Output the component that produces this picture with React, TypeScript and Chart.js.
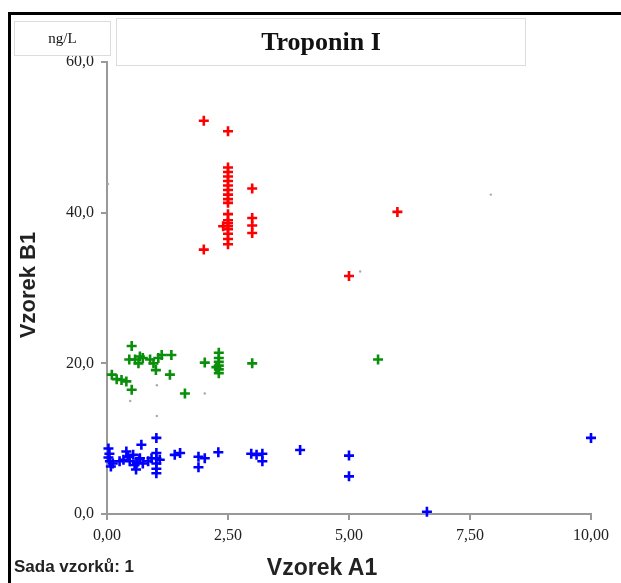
import React, { useEffect, useRef } from "react";
import { Chart, registerables } from "chart.js";

Chart.register(...registerables);

const chartTitle = "Troponin I";
const unitLabel = "ng/L";
const xAxisTitle = "Vzorek A1";
const yAxisTitle = "Vzorek B1";
const footerLabel = "Sada vzorků: 1";

const xMin = 0;
const xMax = 10;
const xStep = 2.5;
const yMin = 0;
const yMax = 60;
const yStep = 20;

const redPoints: [number, number][] = [
  [2.0, 52.2], [2.5, 50.8], [2.5, 46.0], [2.5, 45.4], [2.5, 44.8], [2.5, 44.2],
  [2.5, 43.6], [2.5, 43.0], [2.5, 42.4], [2.5, 41.8], [2.5, 41.3], [2.5, 39.8],
  [2.5, 39.0], [2.5, 38.6], [2.5, 38.2], [2.5, 37.8], [2.5, 37.2], [2.5, 36.5],
  [2.5, 35.8], [2.4, 38.2], [2.0, 35.1], [3.0, 43.2], [3.0, 39.3], [3.0, 38.3],
  [3.0, 37.3], [6.0, 40.1], [5.0, 31.6],
];

const greenPoints: [number, number][] = [
  [0.51, 22.3], [0.46, 20.5], [0.58, 20.5], [0.68, 20.9], [0.74, 20.7], [0.65, 20.0],
  [0.89, 20.5], [0.96, 20.0], [1.01, 19.1], [1.06, 20.7], [1.13, 21.1], [1.33, 21.1],
  [1.30, 18.5], [0.10, 18.5], [0.20, 17.9], [0.30, 17.8], [0.40, 17.6], [0.51, 16.5],
  [1.61, 16.0], [2.02, 20.1], [2.31, 21.4], [2.31, 20.7], [2.31, 20.2], [2.31, 19.7],
  [2.31, 19.2], [2.31, 18.7], [2.26, 19.5], [3.0, 20.0], [5.6, 20.5],
];

const bluePoints: [number, number][] = [
  [0.03, 8.7], [0.05, 8.0], [0.03, 7.5], [0.06, 7.0], [0.08, 6.3], [0.12, 6.7],
  [0.26, 7.0], [0.34, 7.2], [0.40, 8.3], [0.43, 7.6], [0.47, 7.0], [0.54, 7.85],
  [0.57, 6.5], [0.62, 6.8], [0.60, 5.9], [0.67, 7.3], [0.71, 9.2], [0.74, 6.7],
  [0.68, 7.4], [0.85, 7.0], [0.92, 7.4], [1.02, 10.1], [1.02, 8.1], [1.02, 7.4],
  [1.02, 6.7], [1.02, 6.0], [1.02, 5.4], [1.09, 7.2], [1.40, 7.85], [1.51, 8.1],
  [1.89, 7.6], [2.02, 7.4], [1.89, 6.2], [2.30, 8.2], [2.98, 8.0], [3.09, 7.85],
  [3.21, 8.0], [3.21, 7.0], [3.99, 8.5], [5.0, 7.75], [5.0, 5.0], [6.61, 0.3],
  [10.0, 10.1],
];

const grayPoints: [number, number][] = [
  [0.02, 43.8], [5.23, 32.2], [7.93, 42.4], [1.03, 17.1], [0.48, 15.0], [1.03, 13.0],
  [2.02, 16.0],
];

const toXY = (pts: [number, number][]) => pts.map(([x, y]) => ({ x, y }));
const fmt = (v: number, d: number) => v.toFixed(d).replace(".", ",");

const W = 621;
const H = 583;

export default function App() {
  const ref = useRef<HTMLCanvasElement | null>(null);

  useEffect(() => {
    if (!ref.current) return;
    const crossDs = (data: [number, number][], color: string) => ({
      data: toXY(data),
      pointStyle: "cross" as const,
      pointRadius: 5,
      pointBorderWidth: 2.6,
      borderColor: color,
      backgroundColor: color,
      showLine: false,
      clip: false as any,
    });
    const chart = new Chart(ref.current, {
      type: "scatter",
      data: {
        datasets: [
          {
            data: toXY(grayPoints),
            pointStyle: "circle",
            pointRadius: 1.2,
            pointBorderWidth: 0,
            backgroundColor: "#aaaaaa",
            borderColor: "#aaaaaa",
            clip: false as any,
          },
          crossDs(redPoints, "#ff0000"),
          crossDs(greenPoints, "#0a8f0a"),
          crossDs(bluePoints, "#0000ff"),
        ],
      },
      options: {
        responsive: false,
        animation: false,
        layout: { padding: { left: 0, top: 62, right: 30, bottom: 0 } },
        plugins: { legend: { display: false }, tooltip: { enabled: false } },
        scales: {
          x: {
            type: "linear",
            min: xMin,
            max: xMax,
            afterFit: (s: any) => {
              s.height = 69;
            },
            afterBuildTicks: (s: any) => {
              const t = [];
              for (let v = xMin; v <= xMax + 1e-9; v += xStep) t.push({ value: v });
              s.ticks = t;
            },
            ticks: {
              callback: (v: any) => fmt(Number(v), 2),
              color: "#222",
              font: { family: "'Liberation Serif', 'Times New Roman', serif", size: 16 },
              padding: 6,
              maxRotation: 0,
            },
            grid: { drawOnChartArea: false, drawTicks: true, tickLength: 6, color: "#999", lineWidth: 2 },
            border: { color: "#999", width: 2 },
          },
          y: {
            type: "linear",
            min: yMin,
            max: yMax,
            afterFit: (s: any) => {
              s.width = 107;
            },
            ticks: {
              stepSize: yStep,
              callback: (v: any) => fmt(Number(v), 1),
              color: "#222",
              font: { family: "'Liberation Serif', 'Times New Roman', serif", size: 16 },
              padding: 7,
            },
            grid: { drawOnChartArea: false, drawTicks: true, tickLength: 6, color: "#999", lineWidth: 2 },
            border: { color: "#999", width: 2 },
          },
        },
      },
    });
    return () => chart.destroy();
  }, []);

  const sans = "'Liberation Sans', Arial, sans-serif";
  const serif = "'Liberation Serif', 'Times New Roman', serif";

  return (
    <div
      style={{
        position: "fixed",
        left: 0,
        top: 0,
        width: W,
        height: H,
        overflow: "hidden",
        background: "#fff",
      }}
    >
      <canvas ref={ref} width={W} height={H} style={{ position: "absolute", left: 0, top: 0 }} />
      <div
        style={{
          position: "absolute",
          left: 8,
          top: 12,
          width: W,
          height: H,
          borderLeft: "3px solid #000",
          borderTop: "3px solid #000",
          boxSizing: "border-box",
          pointerEvents: "none",
        }}
      />
      <div
        style={{
          position: "absolute",
          left: 14,
          top: 21,
          width: 97,
          height: 35,
          border: "1px solid #dcdcdc",
          boxSizing: "border-box",
          display: "flex",
          alignItems: "center",
          justifyContent: "center",
          fontFamily: serif,
          fontSize: 15,
          color: "#111",
          background: "#fff",
        }}
      >
        {unitLabel}
      </div>
      <div
        style={{
          position: "absolute",
          left: 116,
          top: 18,
          width: 410,
          height: 48,
          border: "1px solid #dcdcdc",
          boxSizing: "border-box",
          display: "flex",
          alignItems: "center",
          justifyContent: "center",
          fontFamily: serif,
          fontWeight: "bold",
          fontSize: 26,
          color: "#111",
        }}
      >
        {chartTitle}
      </div>
      <div
        style={{
          position: "absolute",
          left: 28,
          top: 285,
          transform: "translate(-50%, -50%) rotate(-90deg)",
          whiteSpace: "nowrap",
          fontFamily: sans,
          fontWeight: "bold",
          fontSize: 22,
          color: "#222",
        }}
      >
        {yAxisTitle}
      </div>
      <div
        style={{
          position: "absolute",
          left: 322,
          top: 567,
          transform: "translate(-50%, -50%)",
          whiteSpace: "nowrap",
          fontFamily: sans,
          fontWeight: "bold",
          fontSize: 23,
          color: "#222",
        }}
      >
        {xAxisTitle}
      </div>
      <div
        style={{
          position: "absolute",
          left: 14,
          top: 567,
          transform: "translateY(-50%)",
          whiteSpace: "nowrap",
          fontFamily: sans,
          fontWeight: "bold",
          fontSize: 17,
          color: "#222",
        }}
      >
        {footerLabel}
      </div>
    </div>
  );
}
